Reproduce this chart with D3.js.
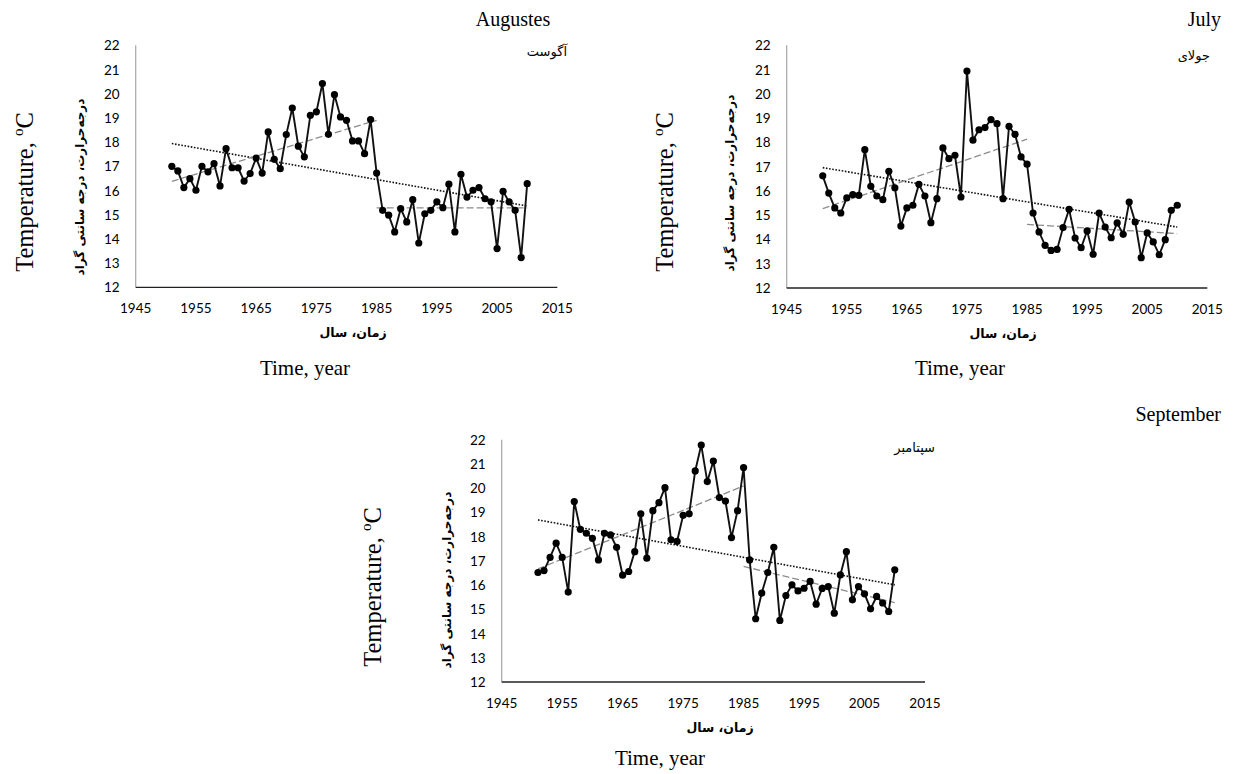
<!DOCTYPE html>
<html>
<head>
<meta charset="utf-8">
<script src="https://cdn.jsdelivr.net/npm/d3@7/dist/d3.min.js"></script>
<style>
  body { margin: 0; background: #fff; }
  svg { display: block; }
</style>
</head>
<body>
<svg width="1235" height="774"></svg>
<script>
// years 1951..2010
var years = d3.range(1951, 2011);

var augTemps = [17.0, 16.81, 16.12, 16.49, 16.01, 17.0, 16.77, 17.11, 16.19, 17.73,
  16.94, 16.94, 16.39, 16.70, 17.34, 16.72, 18.42, 17.29, 16.90, 18.31,
  19.41, 17.83, 17.39, 19.11, 19.25, 20.42, 18.32, 19.96, 19.04, 18.90,
  18.05, 18.05, 17.52, 18.93, 16.72, 15.18, 14.98, 14.29, 15.25, 14.70,
  15.62, 13.83, 15.04, 15.18, 15.53, 15.29, 16.26, 14.29, 16.67, 15.73,
  16.01, 16.12, 15.66, 15.53, 13.60, 15.97, 15.53, 15.18, 13.23, 16.28];

var julTemps = [16.62, 15.91, 15.30, 15.09, 15.71, 15.85, 15.82, 17.70, 16.19, 15.79,
  15.64, 16.81, 16.13, 14.55, 15.30, 15.41, 16.27, 15.79, 14.69, 15.68,
  17.77, 17.33, 17.47, 15.75, 20.94, 18.09, 18.52, 18.61, 18.94, 18.77,
  15.68, 18.66, 18.33, 17.40, 17.10, 15.09, 14.31, 13.76, 13.55, 13.59,
  14.49, 15.24, 14.06, 13.66, 14.35, 13.39, 15.09, 14.51, 14.07, 14.68,
  14.21, 15.54, 14.72, 13.25, 14.27, 13.90, 13.37, 13.99, 15.20, 15.41];

var sepTemps = [16.52, 16.60, 17.14, 17.73, 17.14, 15.71, 19.45, 18.30, 18.14, 17.93,
  17.04, 18.14, 18.07, 17.56, 16.41, 16.56, 17.38, 18.94, 17.11, 19.07,
  19.40, 20.02, 17.87, 17.80, 18.88, 18.94, 20.71, 21.78, 20.27, 21.12,
  19.61, 19.47, 17.96, 19.07, 20.85, 17.04, 14.61, 15.67, 16.52, 17.56,
  14.54, 15.57, 16.01, 15.76, 15.87, 16.15, 15.21, 15.86, 15.94, 14.84,
  16.42, 17.38, 15.39, 15.94, 15.64, 15.02, 15.53, 15.26, 14.91, 16.63];

// trend line end points: [year, value]
var augTrendAll = [[1951, 17.94], [2010, 15.36]];
var augTrendEarly = [[1951, 16.38], [1985, 18.90]];
var augTrendLate = [[1985, 15.28], [2010, 15.28]];
var julTrendAll = [[1951, 16.96], [2010, 14.51]];
var julTrendEarly = [[1951, 15.27], [1985, 18.13]];
var julTrendLate = [[1985, 14.62], [2010, 14.24]];
var sepTrendAll = [[1951, 18.69], [2010, 16.01]];
var sepTrendEarly = [[1951, 16.67], [1985, 20.09]];
var sepTrendLate = [[1985, 16.77], [2010, 15.28]];

var xTicks = [1945, 1955, 1965, 1975, 1985, 1995, 2005, 2015];
var yTicks = [12, 13, 14, 15, 16, 17, 18, 19, 20, 21, 22];

var svg = d3.select("svg");

var faLabel = "زمان، سال";
var faYLabel = "درجه‌حرارت، درجه سانتی گراد";

function drawPanel(p){
  var x = d3.scaleLinear().domain([1945, 2015]).range([p.left, p.right]);
  var y = d3.scaleLinear().domain([12, 22]).range([p.bottom, p.top]);
  var g = svg.append("g");

  // axes lines
  g.append("line")
    .attr("x1", x(1945)).attr("x2", x(1945))
    .attr("y1", y(22)).attr("y2", y(12))
    .style("stroke", "#a6a6a6").style("stroke-width", 1.2);
  g.append("line")
    .attr("x1", x(1945)).attr("x2", x(2015))
    .attr("y1", y(12)).attr("y2", y(12))
    .style("stroke", "#222").style("stroke-width", 1.3);

  g.selectAll(".xt").data(xTicks).enter().append("text")
    .attr("x", d => x(d)).attr("y", y(12) + 26)
    .attr("text-anchor", "middle")
    .style("font-family", "Lato, sans-serif").style("font-size", "13.5px")
    .text(d => d);
  g.selectAll(".yt").data(yTicks).enter().append("text")
    .attr("x", x(1945) - 16).attr("y", d => y(d) + 5)
    .attr("text-anchor", "end")
    .style("font-family", "Lato, sans-serif").style("font-size", "13.5px")
    .text(d => d);

  // trend lines
  var tl = d3.line().x(d => x(d[0])).y(d => y(d[1]));
  g.append("path").attr("d", tl(p.trendAll))
    .style("fill", "none").style("stroke", "#111")
    .style("stroke-width", 1.6).style("stroke-dasharray", "1.6,1.6");
  [p.trendEarly, p.trendLate].forEach(function(t){
    g.append("path").attr("d", tl(t))
      .style("fill", "none").style("stroke", "#8c8c8c")
      .style("stroke-width", 1.3).style("stroke-dasharray", "7,3");
  });

  // series
  var line = d3.line().x((d, i) => x(years[i])).y(d => y(d));
  g.append("path").attr("d", line(p.values))
    .style("fill", "none").style("stroke", "#111").style("stroke-width", 1.9);
  g.selectAll("circle").data(p.values).enter().append("circle")
    .attr("cx", (d, i) => x(years[i])).attr("cy", d => y(d))
    .attr("r", 3.6).style("fill", "#000");

  // persian labels
  g.append("text")
    .attr("x", p.faXLabelX).attr("y", y(12) + 50)
    .attr("text-anchor", "middle").attr("direction", "rtl")
    .style("font-family", "'DejaVu Sans', sans-serif").style("font-size", "12.5px")
    .style("font-weight", "bold")
    .text(faLabel);
  g.append("text")
    .attr("transform", "translate(" + (p.faYLabelX) + "," + p.faYLabelY + ") rotate(-90)")
    .attr("text-anchor", "middle")
    .style("font-family", "'DejaVu Sans', sans-serif").style("font-size", "12px")
    .style("font-weight", "bold")
    .text(faYLabel);
  g.append("text")
    .attr("x", p.monthFaX).attr("y", p.monthFaY)
    .attr("text-anchor", "end")
    .style("font-family", "'DejaVu Sans', sans-serif").style("font-size", "13px")
    .text(p.monthFa);

  // english labels
  var t = g.append("text")
    .attr("transform", "translate(" + p.tempX + "," + p.tempY + ") rotate(-90)")
    .attr("text-anchor", "middle")
    .style("font-family", "'Liberation Serif', 'Times New Roman', serif").style("font-size", "24.5px");
  t.append("tspan").text("Temperature, ");
  t.append("tspan").attr("dy", -10).style("font-size", "15px").text("o");
  t.append("tspan").attr("dy", 10).text("C");

  g.append("text")
    .attr("x", p.timeX).attr("y", p.timeY)
    .attr("text-anchor", "middle")
    .style("font-family", "'Liberation Serif', 'Times New Roman', serif").style("font-size", "21px")
    .text("Time, year");

  g.append("text")
    .attr("x", p.titleX).attr("y", p.titleY)
    .attr("text-anchor", p.titleAnchor)
    .style("font-family", "'Liberation Serif', 'Times New Roman', serif").style("font-size", "20px")
    .text(p.title);
}

drawPanel({
  left: 135.7, right: 557.3, top: 45.3, bottom: 287.3,
  values: augTemps, trendAll: augTrendAll, trendEarly: augTrendEarly, trendLate: augTrendLate,
  faXLabelX: 353, faYLabelX: 84, faYLabelY: 187,
  monthFa: "آگوست", monthFaX: 567, monthFaY: 56,
  tempX: 33, tempY: 192, timeX: 305, timeY: 375,
  title: "Augustes", titleX: 513, titleY: 26, titleAnchor: "middle"
});

drawPanel({
  left: 786.7, right: 1207.3, top: 45.3, bottom: 288,
  values: julTemps, trendAll: julTrendAll, trendEarly: julTrendEarly, trendLate: julTrendLate,
  faXLabelX: 1003, faYLabelX: 734, faYLabelY: 183,
  monthFa: "جولای", monthFaX: 1210, monthFaY: 60,
  tempX: 673, tempY: 192, timeX: 960, timeY: 375,
  title: "July", titleX: 1221, titleY: 26, titleAnchor: "end"
});

drawPanel({
  left: 501.7, right: 925, top: 439.7, bottom: 682,
  values: sepTemps, trendAll: sepTrendAll, trendEarly: sepTrendEarly, trendLate: sepTrendLate,
  faXLabelX: 720, faYLabelX: 451, faYLabelY: 580,
  monthFa: "سپتامبر", monthFaX: 935, monthFaY: 452,
  tempX: 381, tempY: 587, timeX: 660, timeY: 765,
  title: "September", titleX: 1221, titleY: 421, titleAnchor: "end"
});
</script>
</body>
</html>
